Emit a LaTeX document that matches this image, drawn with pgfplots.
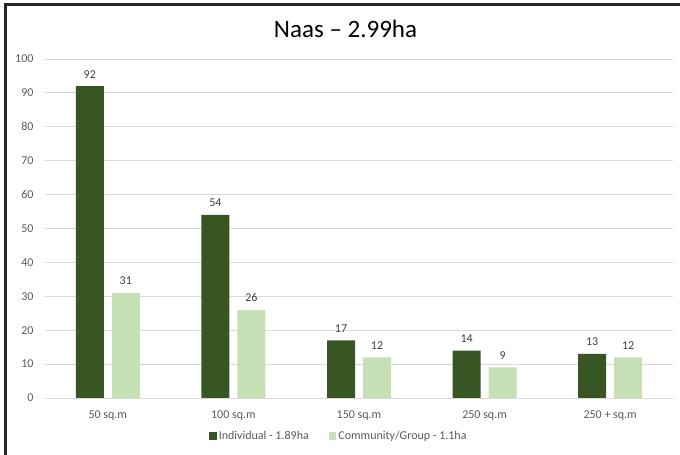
\documentclass[border=0pt]{standalone}
\usepackage{pgfplots}
\pgfplotsset{compat=1.18}
\usepackage{fontspec}
\setmainfont{Carlito}
\definecolor{darkgr}{HTML}{375623}
\definecolor{lightgr}{HTML}{C5E0B4}
\definecolor{gridgr}{HTML}{D9D9D9}
\definecolor{txtgr}{HTML}{595959}
\definecolor{lblgr}{HTML}{404040}
\begin{document}
\begin{tikzpicture}[x=1pt,y=1pt]
\useasboundingbox (0,0) rectangle (680,455);
% chart frame (top and left edges)
\draw[line width=2.6pt, black!85] (5.5,0) -- (5.5,450.5) -- (680,450.5);
\node[font=\fontsize{25}{28}\selectfont, text=black] at (345.5,426) {Naas – 2.99ha};
\begin{axis}[
  at={(45pt,57pt)}, anchor=south west,
  scale only axis, width=628pt, height=339pt,
  ybar=8pt, bar width=28pt,
  xmin=-0.5, xmax=4.5, ymin=0, ymax=100,
  xtick=data,
  xticklabels={50 sq.m, 100 sq.m, 150 sq.m, 250 sq.m, 250 + sq.m},
  ytick={0,10,...,100},
  ymajorgrids, grid style={gridgr, line width=0.8pt},
  axis x line*=bottom, axis y line*=left,
  x axis line style={gridgr, line width=0.8pt},
  y axis line style={draw=none},
  major tick length=0pt,
  /pgf/number format/assume math mode=true,
  tick label style={font=\fontsize{12}{14}\selectfont, text=txtgr},
  xticklabel style={yshift=-9.5pt},
  yticklabel style={xshift=-8pt},
  nodes near coords,
  nodes near coords style={font=\fontsize{12}{14}\selectfont, text=lblgr, yshift=4.5pt},
  legend style={at={(0.468,-0.112)}, anchor=center, draw=none, fill=none,
    legend columns=2, font=\fontsize{12}{14}\selectfont, text=txtgr,
    /tikz/every even column/.append style={column sep=18pt}},
  legend image code/.code={\fill[#1] (0pt,-3.7pt) rectangle (7.5pt,3.7pt);},
]
\addplot[fill=darkgr, draw=none] coordinates {(0,92) (1,54) (2,17) (3,14) (4,13)};
\addplot[fill=lightgr, draw=none] coordinates {(0,31) (1,26) (2,12) (3,9) (4,12)};
\legend{Individual - 1.89ha, Community/Group - 1.1ha}
\end{axis}
\end{tikzpicture}
\end{document}
